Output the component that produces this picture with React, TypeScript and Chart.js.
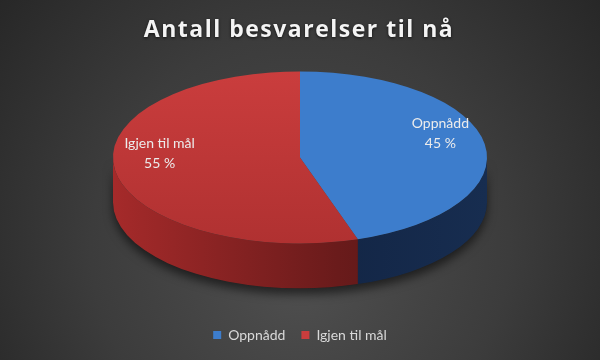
import React, { useEffect, useRef } from "react";
import { Chart, registerables } from "chart.js";

Chart.register(...registerables);

const TITLE = "Antall besvarelser til nå";
const categories = ["Oppnådd", "Igjen til mål"];
const values = [45, 55];
const topLight = ["#3d7dcc", "#ca3d3d"];
const topDark = ["#3470bb", "#b03131"];
const sideStops: string[][] = [
  ["#23467a", "#132646", "#172d50"],
  ["#a52a2a", "#6a1b1b", "#4a1212"],
];

const TILT = 0.46; // vertical squash of the pie
const DEPTH_RATIO = 0.24; // side thickness relative to radius
const RADIUS = 187;
const TITLE_PAD_TOP = 17;
const TITLE_SIZE = 22;

const pie3d = {
  id: "pie3d",
  beforeDraw(chart: any) {
    const { ctx, width, height } = chart;
    ctx.save();
    const g = ctx.createRadialGradient(width / 2, height * 0.78, 10, width / 2, height * 0.6, width * 0.62);
    g.addColorStop(0, "#4e4e4e");
    g.addColorStop(0.55, "#3c3c3c");
    g.addColorStop(1, "#272727");
    ctx.fillStyle = g;
    ctx.fillRect(0, 0, width, height);
    ctx.restore();
  },
  beforeDatasetsDraw(chart: any) {
    const { ctx, chartArea } = chart;

    // title with letter spacing and soft shadow
    const tb = chart.titleBlock;
    ctx.save();
    ctx.font = "bold 23px 'Open Sans'";
    (ctx as any).letterSpacing = "1.5px";
    ctx.textAlign = "center";
    ctx.textBaseline = "middle";
    ctx.shadowColor = "rgba(0,0,0,0.7)";
    ctx.shadowBlur = 3;
    ctx.shadowOffsetY = 1;
    ctx.fillStyle = "#f4f4f4";
    const ty = (tb ? tb.top : 0) + TITLE_PAD_TOP + (TITLE_SIZE * 1.2) / 2;
    ctx.fillText(TITLE, chart.width / 2 - 1, ty);
    ctx.restore();

    const meta = chart.getDatasetMeta(0);
    if (!meta.data.length) return;
    const a0: any = meta.data[0];
    const cx = a0.x;
    const cy = a0.y;
    const R = a0.outerRadius;
    const cyT = chartArea.top + R * TILT;
    const D = R * DEPTH_RATIO;
    const d = D / TILT;
    chart.$pie3d = { cx, cy, cyT, R };

    ctx.save();
    ctx.translate(cx, cyT);
    ctx.scale(1, TILT);
    ctx.translate(-cx, -cy);

    // shadow under the pie
    ctx.save();
    ctx.shadowColor = "rgba(0,0,0,0.55)";
    ctx.shadowBlur = 10;
    ctx.shadowOffsetY = 6;
    ctx.beginPath();
    ctx.arc(cx, cy + d, R, 0, Math.PI);
    ctx.arc(cx, cy, R, Math.PI, 0, true);
    ctx.closePath();
    ctx.fillStyle = "#222";
    ctx.fill();
    ctx.restore();

    meta.data.forEach((arc: any, i: number) => {
      const s = arc.startAngle;
      const e = arc.endAngle;
      const stops = sideStops[i % sideStops.length];
      for (let k = -1; k <= 1; k++) {
        const lo = Math.max(s, k * 2 * Math.PI);
        const hi = Math.min(e, k * 2 * Math.PI + Math.PI);
        if (hi <= lo) continue;
        const g = ctx.createLinearGradient(cx - R, 0, cx + R, 0);
        g.addColorStop(0, stops[0]);
        g.addColorStop(0.6, stops[1]);
        g.addColorStop(1, stops[2]);
        ctx.beginPath();
        ctx.arc(cx, cy, R, lo, hi);
        ctx.arc(cx, cy + d, R, hi, lo, true);
        ctx.closePath();
        ctx.fillStyle = g;
        ctx.fill();
      }
    });
    // top surface drawn by chart.js under the same transform
  },
  afterDatasetsDraw(chart: any) {
    const { ctx } = chart;
    ctx.restore();
    const info = chart.$pie3d;
    if (!info) return;
    const meta = chart.getDatasetMeta(0);
    const total = values.reduce((a, b) => a + b, 0);
    ctx.save();
    ctx.fillStyle = "#ececec";
    ctx.font = "14px Lato";
    ctx.textAlign = "center";
    ctx.textBaseline = "middle";
    meta.data.forEach((arc: any, i: number) => {
      const mid = (arc.startAngle + arc.endAngle) / 2;
      const lx = info.cx + Math.cos(mid) * info.R * 0.76;
      const ly = info.cyT + Math.sin(mid) * info.R * 0.76 * TILT - 14;
      ctx.fillText(categories[i], lx, ly - 10);
      ctx.fillText(`${Math.round((values[i] / total) * 100)} %`, lx, ly + 10);
    });
    ctx.restore();
  },
};

function topFill(c: any) {
  const chart = c.chart;
  const i = c.dataIndex ?? 0;
  const meta = chart.getDatasetMeta(0);
  const arc: any = meta && meta.data && meta.data[0];
  if (!chart.chartArea || !arc || !arc.outerRadius) return topLight[i];
  const g = chart.ctx.createLinearGradient(0, arc.y - arc.outerRadius, 0, arc.y + arc.outerRadius);
  g.addColorStop(0, topLight[i]);
  g.addColorStop(1, topDark[i]);
  return g;
}

export default function App() {
  const ref = useRef<HTMLCanvasElement>(null);
  useEffect(() => {
    document.body.style.margin = "0";
    const chart = new Chart(ref.current!, {
      type: "pie",
      data: {
        labels: categories,
        datasets: [
          {
            data: values,
            backgroundColor: topFill as any,
            borderWidth: 0,
            radius: RADIUS,
            clip: false as any,
          } as any,
        ],
      },
      plugins: [pie3d],
      options: {
        responsive: false,
        animation: false,
        layout: { padding: { bottom: 8 } },
        plugins: {
          tooltip: { enabled: false },
          title: {
            display: true,
            text: TITLE,
            color: "rgba(0,0,0,0)",
            font: { family: "Open Sans", size: TITLE_SIZE, weight: "bold" },
            padding: { top: TITLE_PAD_TOP, bottom: 28 },
          },
          legend: {
            position: "bottom",
            labels: {
              color: "#d9d9d9",
              font: { family: "Lato", size: 14 },
              boxWidth: 8,
              boxHeight: 8,
              padding: 16,
              generateLabels: () =>
                categories.map((c, i) => ({
                  text: c,
                  fillStyle: topLight[i],
                  strokeStyle: topLight[i],
                  lineWidth: 0,
                  fontColor: "#d9d9d9",
                  hidden: false,
                  index: i,
                })),
            },
          },
        },
      },
    });
    return () => chart.destroy();
  }, []);
  return <canvas ref={ref} width={600} height={360} style={{ display: "block" }} />;
}
